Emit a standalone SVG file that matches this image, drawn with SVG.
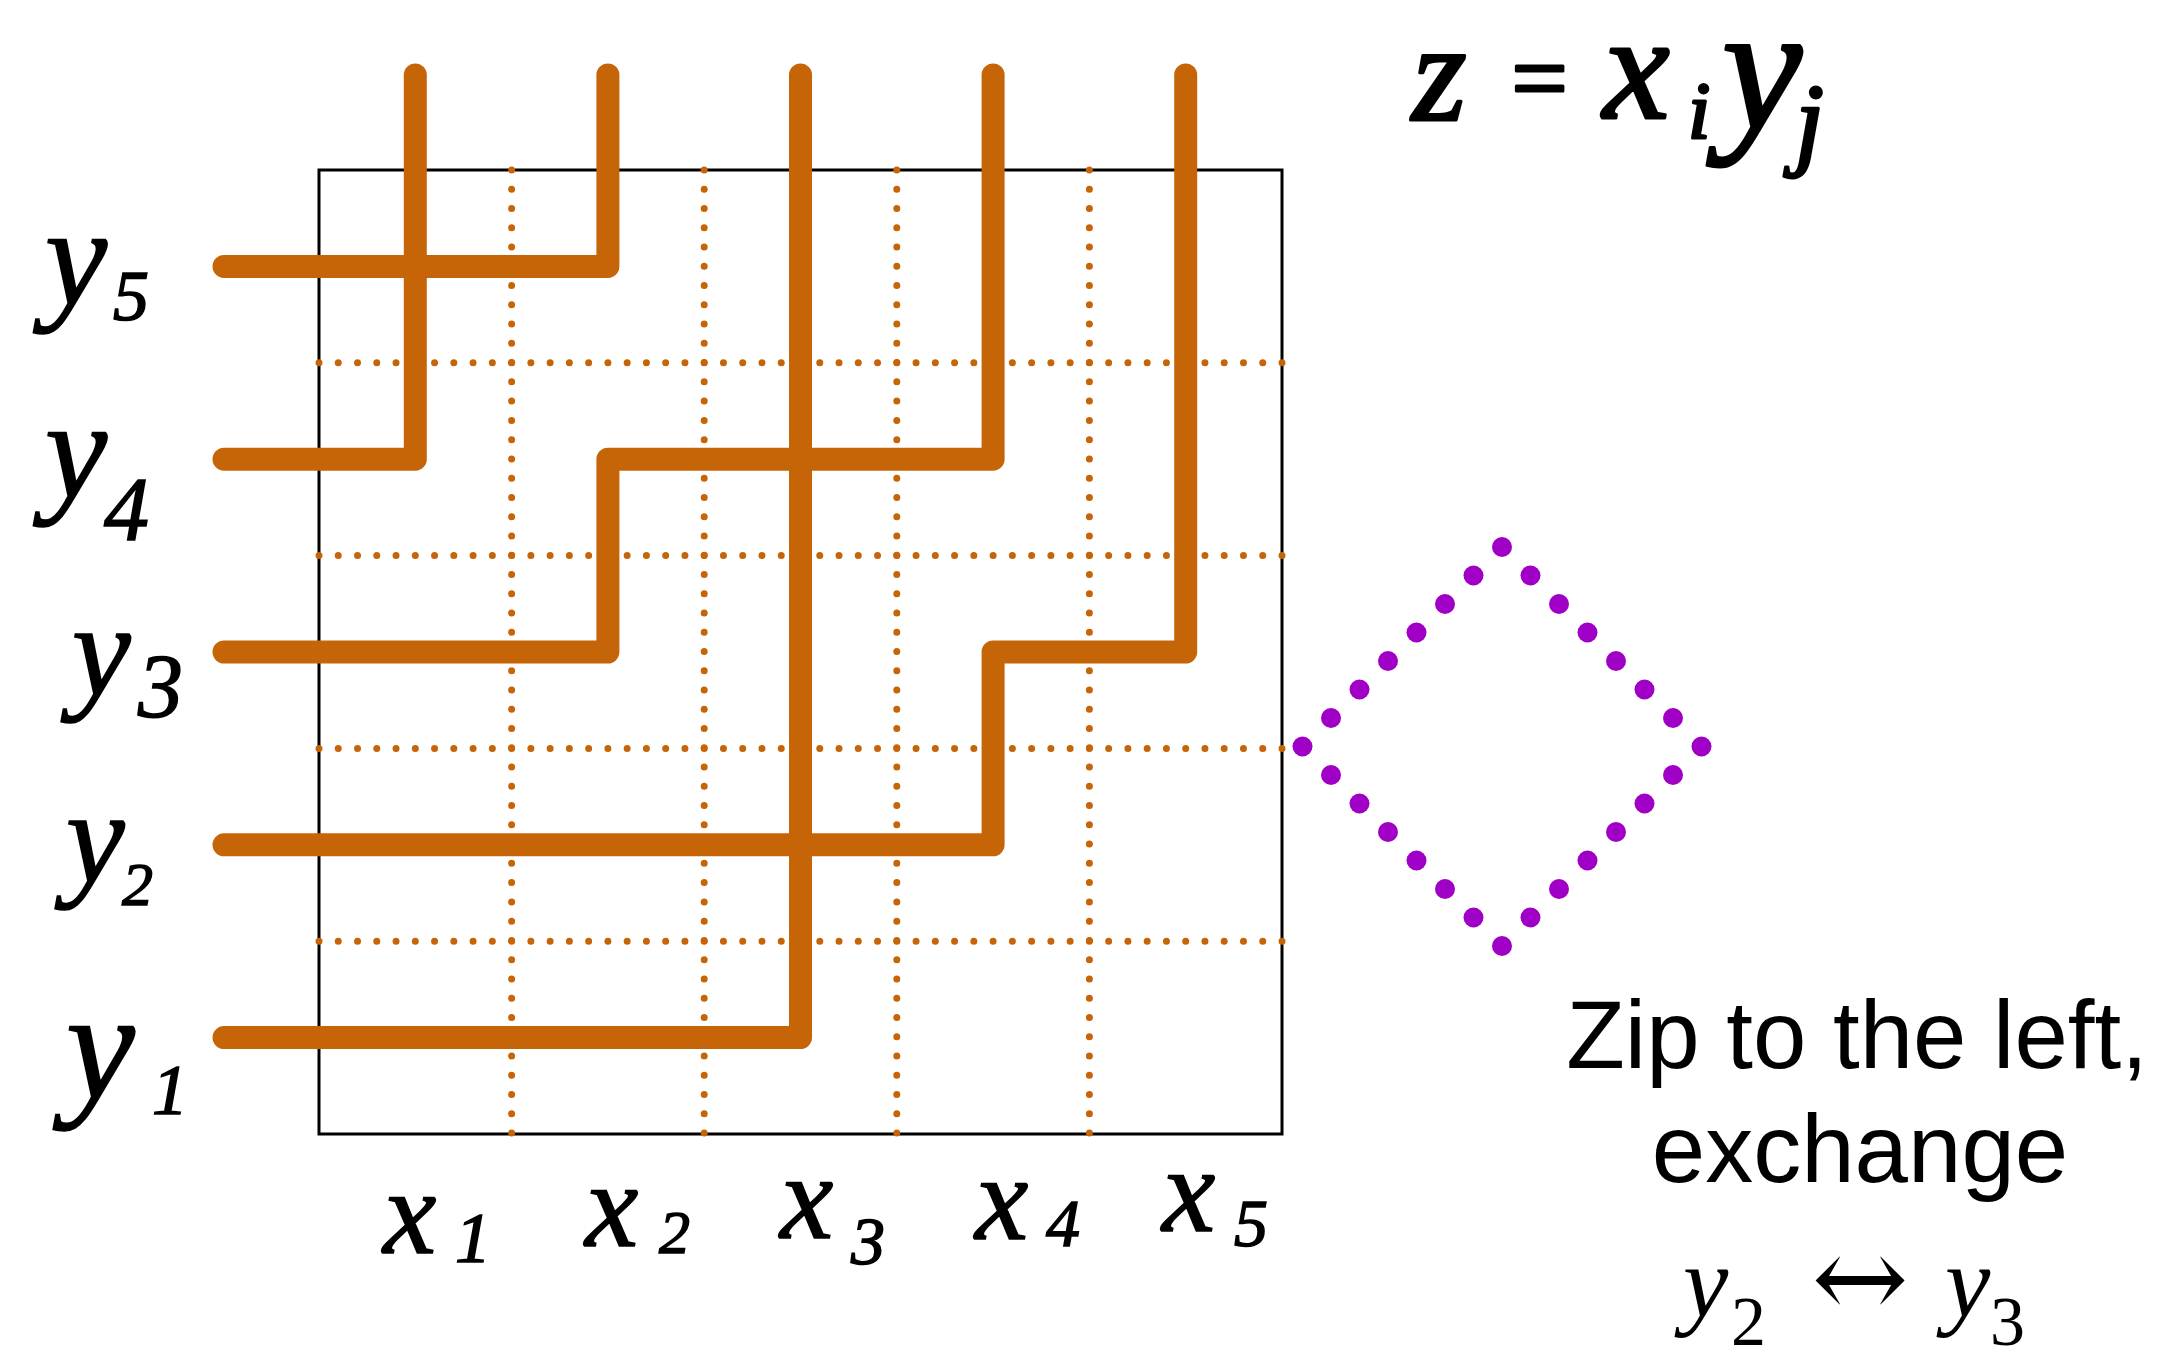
<svg xmlns="http://www.w3.org/2000/svg" width="2183" height="1355" viewBox="0 0 2183 1355">
<style>
.dot{stroke:#C66508;stroke-width:7;stroke-linecap:round;stroke-dasharray:0 19.26;fill:none}
.wire{stroke:#C66508;stroke-width:23;stroke-linecap:round;stroke-linejoin:round;fill:none}
.hw{font-family:"Liberation Serif","DejaVu Serif",serif;font-style:italic;fill:#000;stroke:#000;stroke-width:1.5}
.hb{font-family:"Liberation Serif","DejaVu Serif",serif;font-style:italic;fill:#000;stroke:#000;stroke-width:3;stroke-linejoin:round}
.cap{font-family:"Liberation Sans",Arial,sans-serif;font-size:96px;fill:#000;text-anchor:middle}
.math{font-family:"Liberation Serif","DejaVu Serif",serif;fill:#000}
.pd{fill:#A000C6}
</style>
<rect width="2183" height="1355" fill="#fff"/>
<g id="grid">
<rect x="319" y="170" width="963" height="964" fill="none" stroke="#000" stroke-width="3"/>
<path class="dot" d="M511.6,170V1135M704.2,170V1135M896.8,170V1135M1089.4,170V1135"/>
<path class="dot" d="M319,362.8H1283M319,555.6H1283M319,748.4H1283M319,941.2H1283"/>
</g>
<g id="connectors">
<path class="wire" d="M224,266.4H607.9V75"/>
<path class="wire" d="M415.3,75V459.2H224"/>
<path class="wire" d="M224,652H607.9V459.2H993.1V75"/>
<path class="wire" d="M224,844.8H993.1V652H1185.7V75"/>
<path class="wire" d="M224,1037.6H800.5V75"/>
</g>
<g id="y-labels">
<g id="y5"><text class="hw" x="45" y="304" font-size="140">y</text><text class="hw" x="113" y="320" font-size="72">5</text></g>
<g id="y4"><text class="hw" x="45" y="497" font-size="140">y</text><text class="hw" x="104" y="540" font-size="90">4</text></g>
<g id="y3"><text class="hw" x="72" y="695" font-size="132">y</text><text class="hw" x="138" y="717" font-size="90">3</text></g>
<g id="y2"><text class="hw" x="66" y="882" font-size="132">y</text><text class="hw" x="122" y="905" font-size="62">2</text></g>
<g id="y1"><text class="hw" x="66" y="1098" font-size="155">y</text><text class="hw" x="152" y="1114" font-size="72">1</text></g>
</g>
<g id="x-labels">
<g id="x1"><text class="hw" x="383" y="1253" font-size="120">x</text><text class="hw" x="455" y="1262" font-size="72">1</text></g>
<g id="x2"><text class="hw" x="585" y="1246" font-size="120">x</text><text class="hw" x="659" y="1253" font-size="62">2</text></g>
<g id="x3"><text class="hw" x="780" y="1238" font-size="120">x</text><text class="hw" x="851" y="1264" font-size="68">3</text></g>
<g id="x4"><text class="hw" x="975" y="1239" font-size="120">x</text><text class="hw" x="1046" y="1246" font-size="68">4</text></g>
<g id="x5"><text class="hw" x="1162" y="1231" font-size="120">x</text><text class="hw" x="1234" y="1246" font-size="68">5</text></g>
</g>
<g id="formula">
<text class="hb" x="1412" y="120" font-size="140">z</text>
<text class="hb" x="1505" y="112" font-size="100">=</text>
<text class="hb" x="1603" y="118" font-size="150">x</text>
<text class="hb" x="1688" y="138" font-size="80">i</text>
<text class="hb" x="1722" y="128" font-size="180">y</text>
<text class="hb" x="1795" y="156" font-size="104">j</text>
</g>
<g id="diamond">
<circle class="pd" cx="1502" cy="547" r="10"/><circle class="pd" cx="1473.5" cy="575.5" r="10"/><circle class="pd" cx="1445" cy="604" r="10"/><circle class="pd" cx="1416.5" cy="632.5" r="10"/><circle class="pd" cx="1388" cy="661" r="10"/><circle class="pd" cx="1359.5" cy="689.5" r="10"/><circle class="pd" cx="1331" cy="718" r="10"/>
<circle class="pd" cx="1302.5" cy="746.5" r="10"/><circle class="pd" cx="1331" cy="775" r="10"/><circle class="pd" cx="1359.5" cy="803.5" r="10"/><circle class="pd" cx="1388" cy="832" r="10"/><circle class="pd" cx="1416.5" cy="860.5" r="10"/><circle class="pd" cx="1445" cy="889" r="10"/><circle class="pd" cx="1473.5" cy="917.5" r="10"/>
<circle class="pd" cx="1502" cy="946" r="10"/><circle class="pd" cx="1530.5" cy="917.5" r="10"/><circle class="pd" cx="1559" cy="889" r="10"/><circle class="pd" cx="1587.5" cy="860.5" r="10"/><circle class="pd" cx="1616" cy="832" r="10"/><circle class="pd" cx="1644.5" cy="803.5" r="10"/><circle class="pd" cx="1673" cy="775" r="10"/>
<circle class="pd" cx="1701.5" cy="746.5" r="10"/><circle class="pd" cx="1673" cy="718" r="10"/><circle class="pd" cx="1644.5" cy="689.5" r="10"/><circle class="pd" cx="1616" cy="661" r="10"/><circle class="pd" cx="1587.5" cy="632.5" r="10"/><circle class="pd" cx="1559" cy="604" r="10"/><circle class="pd" cx="1530.5" cy="575.5" r="10"/>
</g>
<g id="caption">
<text class="cap" x="1857" y="1068">Zip to the left,</text>
<text class="cap" x="1860" y="1182">exchange</text>
<text class="math" font-size="102"><tspan x="1683" y="1316" font-style="italic">y</tspan><tspan x="1731" y="1345" font-size="70">2</tspan><tspan x="1945" y="1316" font-style="italic">y</tspan><tspan x="1990" y="1345" font-size="70">3</tspan></text>
<text x="1860" y="1318" font-family="'DejaVu Serif',serif" font-size="116" text-anchor="middle" fill="#000">↔</text>
</g>
</svg>
